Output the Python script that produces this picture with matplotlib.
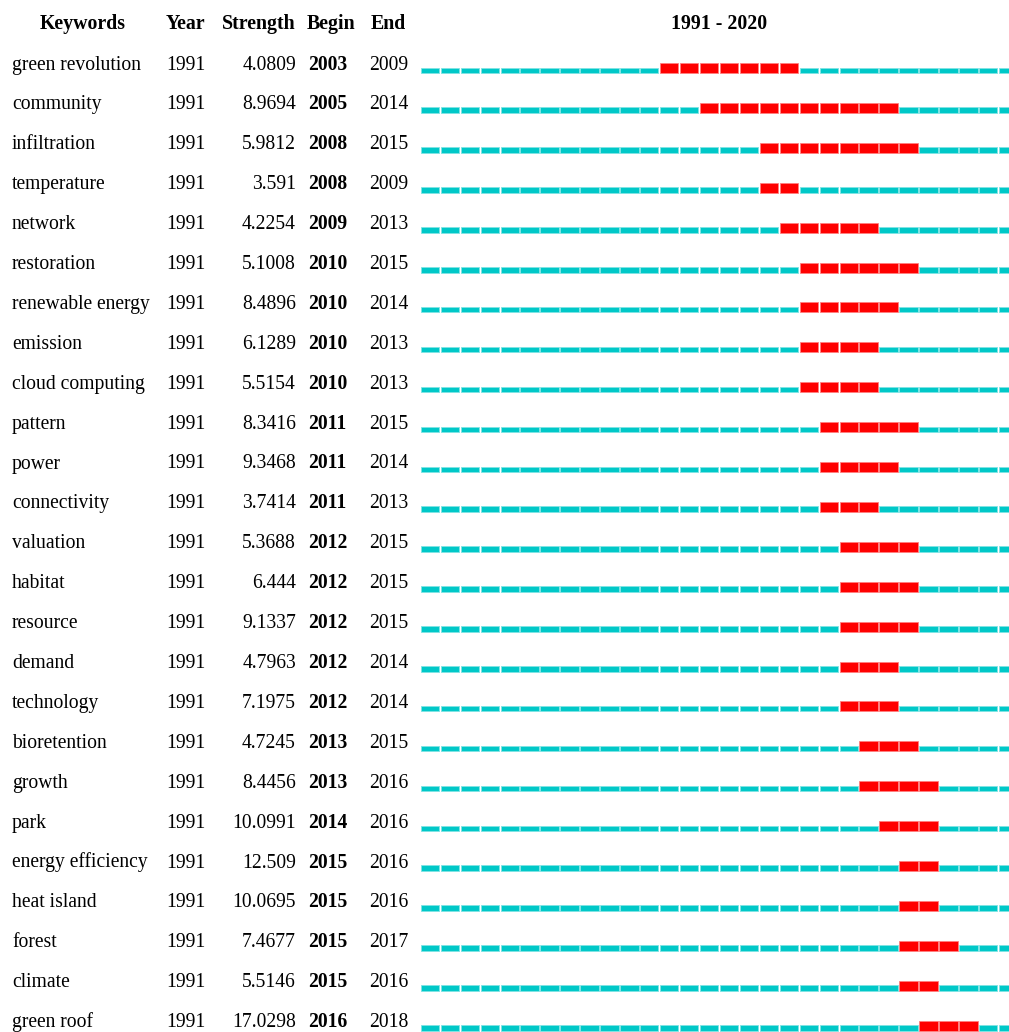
import matplotlib
matplotlib.use('Agg')
import matplotlib.pyplot as plt
import matplotlib.transforms as mtransforms

keywords = ['green revolution', 'community', 'infiltration', 'temperature', 'network',
            'restoration', 'renewable energy', 'emission', 'cloud computing', 'pattern',
            'power', 'connectivity', 'valuation', 'habitat', 'resource', 'demand',
            'technology', 'bioretention', 'growth', 'park', 'energy efficiency',
            'heat island', 'forest', 'climate', 'green roof']
year = [1991] * 25
strength = ['4.0809', '8.9694', '5.9812', '3.591', '4.2254', '5.1008', '8.4896', '6.1289',
            '5.5154', '8.3416', '9.3468', '3.7414', '5.3688', '6.444', '9.1337', '4.7963',
            '7.1975', '4.7245', '8.4456', '10.0991', '12.509', '10.0695', '7.4677',
            '5.5146', '17.0298']
begin = [2003, 2005, 2008, 2008, 2009, 2010, 2010, 2010, 2010, 2011, 2011, 2011, 2012,
         2012, 2012, 2012, 2012, 2013, 2013, 2014, 2015, 2015, 2015, 2015, 2016]
end = [2009, 2014, 2015, 2009, 2013, 2015, 2014, 2013, 2013, 2015, 2014, 2013, 2015,
       2015, 2015, 2014, 2014, 2015, 2016, 2016, 2016, 2016, 2017, 2016, 2018]
first_year = 1991
last_year = 2020

W, H = 1009, 1032
cell = 19.94      # px per year
x0 = 420          # px where 1991 starts
row_h = 39.9      # px per row
y0 = 73           # px bottom of first row bars

fig = plt.figure(figsize=(W / 100, H / 100), dpi=100)
ax = fig.add_axes([0, 0, 1, 1])
ax.set_xlim(first_year - x0 / cell, first_year + (W - x0) / cell)
ax.set_ylim(-(H - y0) / row_h, y0 / row_h)
ax.axis('off')

cyan = '#00c8c8'
red = '#ff0000'
years = list(range(first_year, last_year + 1))
for i, kw in enumerate(keywords):
    cy = [y for y in years if not (begin[i] <= y <= end[i])]
    ry = [y for y in years if begin[i] <= y <= end[i]]
    ax.bar([y + 0.04 for y in cy], 5.5 / row_h, width=0.92, bottom=-i, align='edge',
           color=cyan, edgecolor='#7fe3e3', linewidth=0.6)
    ax.bar([y + 0.04 for y in ry], 10 / row_h, width=0.92, bottom=-i, align='edge',
           color=red, edgecolor='#ff8080', linewidth=0.6)

tr = mtransforms.blended_transform_factory(fig.transFigure, ax.transData)
font = 'Liberation Serif'
fs = 14.1
tb = 3.5 / row_h   # text baseline slightly above bar bottom

def fx(px):
    return px / W

for i, kw in enumerate(keywords):
    yy = -i + tb
    ax.text(fx(12), yy, kw, transform=tr, fontsize=fs, family=font, va='baseline', ha='left')
    ax.text(fx(166), yy, str(year[i]), transform=tr, fontsize=fs, family=font, va='baseline', ha='left')
    ax.text(fx(296), yy, strength[i], transform=tr, fontsize=fs, family=font, va='baseline', ha='right')
    ax.text(fx(308), yy, str(begin[i]), transform=tr, fontsize=fs, family=font, va='baseline',
            ha='left', fontweight='bold')
    ax.text(fx(369), yy, str(end[i]), transform=tr, fontsize=fs, family=font, va='baseline', ha='left')

# header row
hy = (73 - 28.5) / row_h
hs = 14.3
ax.text(fx(83), hy, 'Keywords', transform=tr, fontsize=hs, family=font, va='baseline', ha='center', fontweight='bold')
ax.text(fx(166), hy, 'Year', transform=tr, fontsize=hs, family=font, va='baseline', ha='left', fontweight='bold')
ax.text(fx(296), hy, 'Strength', transform=tr, fontsize=hs, family=font, va='baseline', ha='right', fontweight='bold')
ax.text(fx(307), hy, 'Begin', transform=tr, fontsize=hs, family=font, va='baseline', ha='left', fontweight='bold')
ax.text(fx(371), hy, 'End', transform=tr, fontsize=hs, family=font, va='baseline', ha='left', fontweight='bold')
ax.text(fx(719), hy, '%d - %d' % (first_year, last_year), transform=tr, fontsize=hs, family=font,
        va='baseline', ha='center', fontweight='bold')

fig.savefig('out.png', dpi=100)
